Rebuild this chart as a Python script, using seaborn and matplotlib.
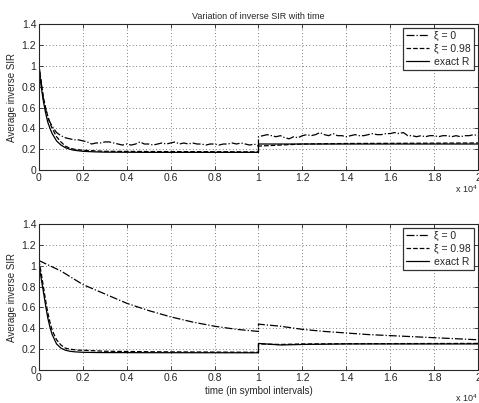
import numpy as np
import pandas as pd
import seaborn as sns
import matplotlib.pyplot as plt
from matplotlib.ticker import FuncFormatter, MultipleLocator

# time grid (symbol intervals) for the noisy estimate, jump at 10000
t_noisy = [0, 200, 400, 600, 800, 1000, 1200, 1400, 1600, 1800,
           2000, 2200, 2400, 2600, 2800, 3000, 3200, 3400, 3600, 3800,
           4000, 4200, 4400, 4600, 4800, 5000, 5200, 5400, 5600, 5800,
           6000, 6200, 6400, 6600, 6800, 7000, 7200, 7400, 7600, 7800,
           8000, 8200, 8400, 8600, 8800, 9000, 9200, 9400, 9600, 9800,
           9999, 10000, 10200, 10400, 10600, 10800, 11000, 11200, 11400, 11600,
           11800, 12000, 12200, 12400, 12600, 12800, 13000, 13200, 13400, 13600,
           13800, 14000, 14200, 14400, 14600, 14800, 15000, 15200, 15400, 15600,
           15800, 16000, 16200, 16400, 16600, 16800, 17000, 17200, 17400, 17600,
           17800, 18000, 18200, 18400, 18600, 18800, 19000, 19200, 19400, 19600,
           19800, 20000]
top_xi0 = [1.0, 0.68, 0.50, 0.42, 0.36, 0.33, 0.31, 0.30, 0.29, 0.29,
           0.28, 0.27, 0.25, 0.26, 0.26, 0.27, 0.27, 0.26, 0.25, 0.24,
           0.25, 0.24, 0.25, 0.27, 0.25, 0.25, 0.24, 0.25, 0.26, 0.25,
           0.26, 0.27, 0.25, 0.26, 0.25, 0.26, 0.25, 0.25, 0.24, 0.25,
           0.25, 0.24, 0.25, 0.25, 0.26, 0.25, 0.26, 0.25, 0.24, 0.25,
           0.23, 0.32, 0.33, 0.34, 0.33, 0.32, 0.33, 0.31, 0.30, 0.32,
           0.31, 0.33, 0.34, 0.33, 0.34, 0.36, 0.34, 0.33, 0.35, 0.33,
           0.33, 0.32, 0.33, 0.34, 0.33, 0.33, 0.34, 0.35, 0.34, 0.34,
           0.35, 0.35, 0.36, 0.35, 0.36, 0.33, 0.33, 0.32, 0.33, 0.32,
           0.33, 0.33, 0.32, 0.33, 0.33, 0.32, 0.33, 0.32, 0.33, 0.33,
           0.34, 0.33]

# smooth curves
t_smooth = [0, 100, 200, 300, 400, 500, 600, 800, 1000, 1200, 1400, 1600,
            1800, 2000, 2500, 3000, 5000, 9999, 10000, 11000, 12000, 14000, 20000]
top_xi098 = [1.0, 0.84, 0.70, 0.60, 0.52, 0.45, 0.40, 0.32, 0.27, 0.23, 0.21, 0.20,
             0.195, 0.19, 0.185, 0.18, 0.178, 0.175, 0.23, 0.24, 0.25, 0.255, 0.26]
top_exact = [1.0, 0.80, 0.66, 0.55, 0.46, 0.40, 0.35, 0.28, 0.24, 0.215, 0.20, 0.19,
             0.185, 0.18, 0.175, 0.172, 0.17, 0.17, 0.25, 0.25, 0.25, 0.25, 0.25]
bot_close = [1.05, 0.93, 0.80, 0.67, 0.55, 0.46, 0.38, 0.29, 0.24, 0.21, 0.20, 0.195,
             0.19, 0.19, 0.185, 0.18, 0.175, 0.17, 0.25, 0.245, 0.25, 0.252, 0.255]
bot_exact = [1.0, 0.88, 0.75, 0.62, 0.50, 0.41, 0.34, 0.25, 0.21, 0.19, 0.18, 0.175,
             0.172, 0.17, 0.168, 0.167, 0.166, 0.165, 0.255, 0.24, 0.245, 0.25, 0.25]

t_slow = [0, 1000, 2000, 3000, 4000, 5000, 6000, 7000, 8000, 9000, 9999,
          10000, 11000, 12000, 13000, 14000, 15000, 16000, 17000, 18000, 19000, 20000]
bot_slow = [1.05, 0.95, 0.82, 0.73, 0.64, 0.57, 0.51, 0.46, 0.42, 0.39, 0.37,
            0.44, 0.42, 0.39, 0.37, 0.355, 0.34, 0.33, 0.32, 0.31, 0.30, 0.29]

legend_labels = ["ξ = 0", "ξ = 0.98", "exact R"]

sns.set_style("ticks")
plt.rcParams['font.family'] = ['Liberation Sans', 'DejaVu Sans']
plt.rcParams['mathtext.fontset'] = 'custom'
plt.rcParams['mathtext.rm'] = 'Liberation Sans'

fig = plt.figure(figsize=(4.79, 4.03), dpi=100)
ax1 = fig.add_axes([0.0814, 0.578, 0.9165, 0.362])
ax2 = fig.add_axes([0.0814, 0.0819, 0.9165, 0.362])


def draw(ax, curves, offset_y):
    for x, y, ls, lab in curves:
        df = pd.DataFrame({"t": x, "v": y})
        sns.lineplot(data=df, x="t", y="v", ax=ax, color="black", lw=0.9,
                     linestyle=ls, label=lab, sort=False, estimator=None)
    ax.set_xlim(0, 20000)
    ax.set_ylim(0, 1.4)
    ax.xaxis.set_major_locator(MultipleLocator(2000))
    ax.yaxis.set_major_locator(MultipleLocator(0.2))
    ax.xaxis.set_major_formatter(FuncFormatter(lambda v, p: "%g" % round(v / 1e4, 2)))
    ax.yaxis.set_major_formatter(FuncFormatter(lambda v, p: "%g" % round(v, 2)))
    ax.grid(True, linestyle=(0, (1, 3)), color="#555555", lw=0.6)
    ax.tick_params(direction="in", labelsize=7.5, length=3, width=0.6, pad=2,
                   top=True, right=True)
    for s in ax.spines.values():
        s.set_linewidth(0.8)
    ax.set_ylabel("Average inverse SIR", fontsize=7, labelpad=3)
    ax.set_xlabel("")
    ax.text(0.998, offset_y, r"x 10$^4$", transform=ax.transAxes, fontsize=6.5,
            ha="right", va="top")
    leg = ax.legend(loc="upper right", fontsize=7.5, frameon=True, fancybox=False,
                    handlelength=2.2, borderpad=0.3, labelspacing=0.28,
                    handletextpad=0.5, borderaxespad=0.35)
    leg.get_frame().set_edgecolor("black")
    leg.get_frame().set_linewidth(0.9)


draw(ax1, [(t_noisy, top_xi0, "-.", legend_labels[0]),
           (t_smooth, top_xi098, "--", legend_labels[1]),
           (t_smooth, top_exact, "-", legend_labels[2])], -0.09)
draw(ax2, [(t_slow, bot_slow, "-.", legend_labels[0]),
           (t_smooth, bot_close, "--", legend_labels[1]),
           (t_smooth, bot_exact, "-", legend_labels[2])], -0.15)

ax1.set_title("Variation of inverse SIR with time", fontsize=6.5, pad=4)
ax2.set_xlabel("time (in symbol intervals)", fontsize=7, labelpad=2)

fig.savefig("out.png", dpi=100)
